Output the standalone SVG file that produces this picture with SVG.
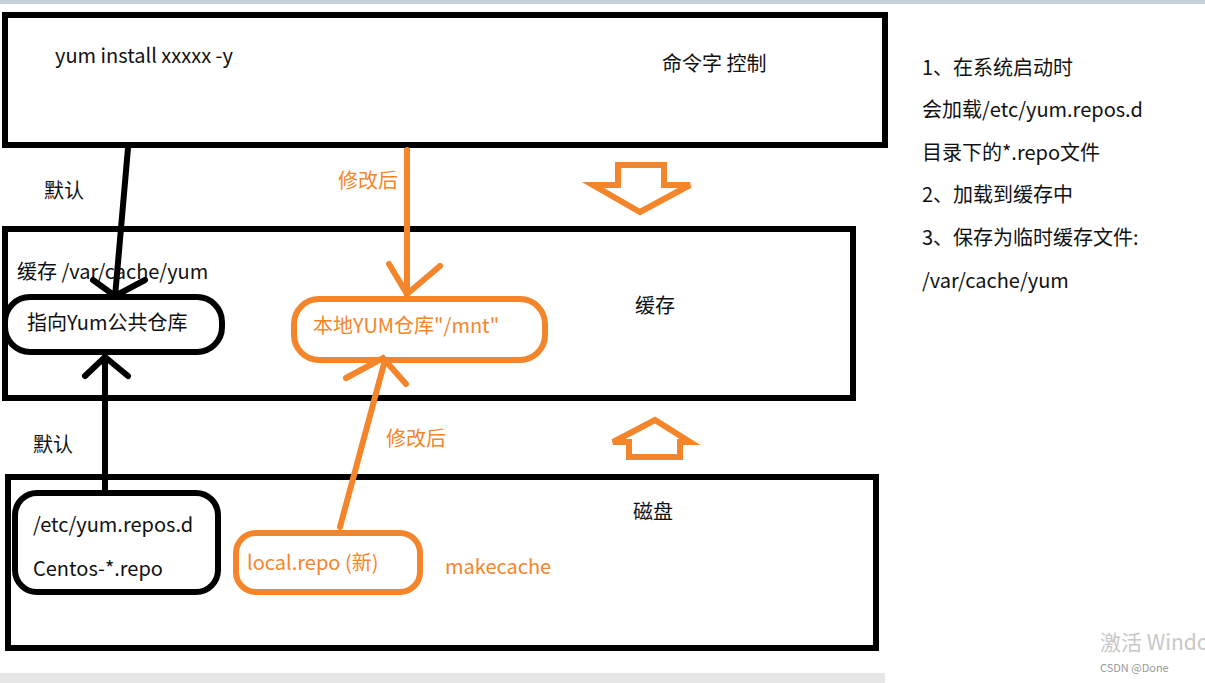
<svg xmlns="http://www.w3.org/2000/svg" width="1205" height="683" viewBox="0 0 1205 683">
<style>
.b{fill:none;stroke:#000;stroke-width:6}
.o{fill:none;stroke:#f5852b;stroke-width:6}
.bl{fill:none;stroke:#000;stroke-width:6;stroke-linecap:round}
.ol{fill:none;stroke:#f5852b;stroke-width:6;stroke-linecap:round}
text{font-family:"Microsoft YaHei","Noto Sans CJK SC",sans-serif;font-size:20px;fill:#111}
.ot{fill:#f5852b}
</style>
<rect width="1205" height="683" fill="#fff"/>
<rect x="0" y="0" width="1205" height="4" fill="#c8d0dc"/>
<rect x="0" y="673" width="885" height="10" fill="#e6e6e6"/>
<g id="top"><rect class="b" x="5" y="15" width="880" height="130"/>
<text x="55" y="63">yum install xxxxx -y</text><text x="662" y="71">命令字 控制</text></g>
<g id="cache"><rect class="b" x="5" y="229" width="848" height="169"/>
<text x="17" y="279">缓存 /var/cache/yum</text><text x="635" y="313">缓存</text></g>
<g id="disk"><rect class="b" x="8" y="477" width="868" height="171"/>
<text x="633" y="519">磁盘</text><text class="ot" x="445" y="574">makecache</text></g>
<g id="pub"><rect class="b" x="5" y="297" width="217" height="55" rx="25"/><text x="27" y="330">指向Yum公共仓库</text></g>
<g id="local"><rect class="o" x="294" y="299" width="251" height="61" rx="25"/><text class="ot" x="313" y="333">本地YUM仓库"/mnt"</text></g>
<g id="repos"><rect class="b" x="15" y="493" width="203" height="99" rx="22"/><text x="33" y="532">/etc/yum.repos.d</text><text x="33" y="576">Centos-*.repo</text></g>
<g id="localrepo"><rect class="o" x="236" y="533" width="184" height="59" rx="20"/><text class="ot" x="247" y="570">local.repo (新)</text></g>
<g id="notes"><text x="922" y="75">1、在系统启动时</text><text x="922" y="117">会加载/etc/yum.repos.d</text><text x="922" y="160">目录下的*.repo文件</text><text x="922" y="202">2、加载到缓存中</text><text x="922" y="245">3、保存为临时缓存文件:</text><text x="922" y="288">/var/cache/yum</text></g>
<g id="connectors">
<path class="bl" d="M128 148L115 297M93 280L115 296L145 280"/>
<path class="ol" d="M407 150L407 296M389 264L407 294L440 266"/>
<path class="bl" d="M105 490L105 357M85 376L105 357L128 376"/>
<path class="ol" d="M340 527L385 360M346 378L383 358L406 384"/>
<path class="o" d="M618 165H664V185H690L640 212L593 185H618Z"/>
<path class="o" d="M629 457H680V442H690L655 420L613 442H629Z"/>
<text x="44" y="198">默认</text><text class="ot" x="338" y="188">修改后</text>
<text x="33" y="452">默认</text><text class="ot" x="386" y="446">修改后</text>
</g>
<text x="1100" y="650" style="fill:#c8c8c8;font-size:21px">激活 Windo</text>
<text x="1100" y="672" style="fill:#999;font-size:11px">CSDN @Done</text>
</svg>
